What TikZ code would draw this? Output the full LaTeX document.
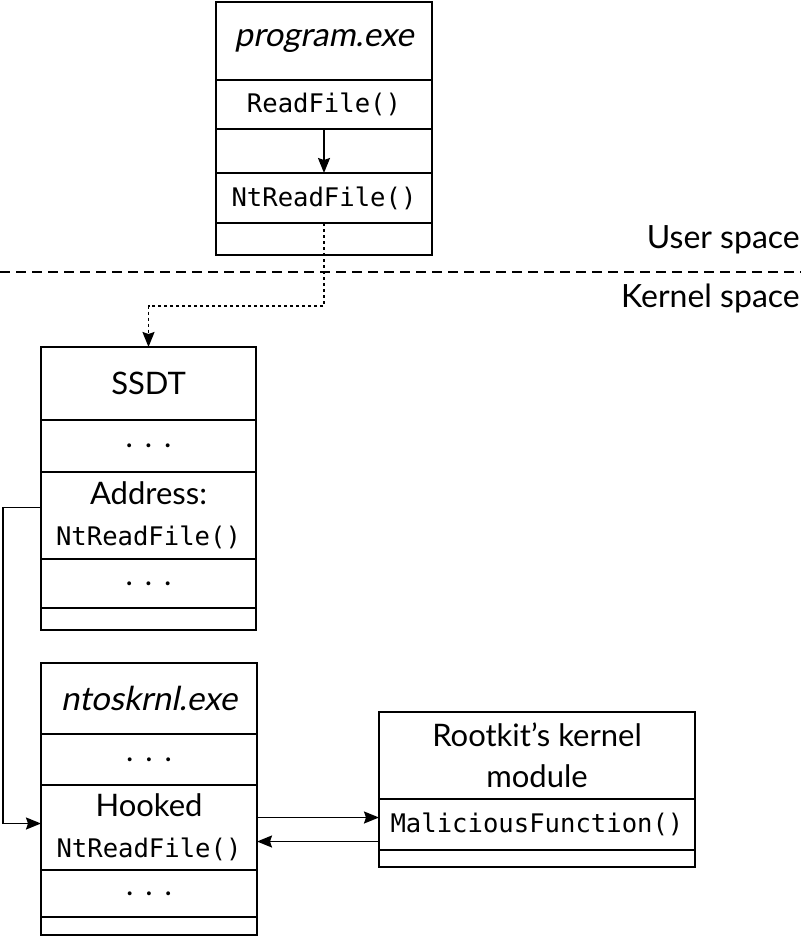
\documentclass[tikz,border=0pt]{standalone}
\usepackage{fontspec}
\setmainfont{Lato}
\setmonofont{DejaVu Sans Mono}
\newfontface\oblique{Lato}[FakeSlant=0.2]
\usetikzlibrary{positioning,arrows.meta}

\tikzset{
  cell/.style={draw, line width=1.8pt, inner sep=0pt, outer sep=0pt, align=center,
    font=\fontsize{31}{41}\selectfont},
  link/.style={line width=1.7pt},
  callarrow/.style={-{Stealth[length=15pt,width=12pt,inset=2pt]}},
}
\newcommand{\fn}[1]{{\ttfamily\fontsize{25.6}{30}\selectfont #1}}
\newcommand{\exe}[1]{{\oblique\fontsize{33}{41}\selectfont #1}}
\newcommand{\rowdots}{.\hspace{12pt}.\hspace{12pt}.}

\begin{document}
\begin{tikzpicture}[x=1pt,y=-1pt]
  \useasboundingbox (0,0) rectangle (801,937);

  % Define the widths of the tables
  \pgfmathsetmacro{\wa}{216}
  \pgfmathsetmacro{\wb}{215}
  \pgfmathsetmacro{\wc}{316}

  % Draw the user-mode program
  \node[cell, minimum width=\wa pt, minimum height=78pt] (prog) at (324,41) {\exe{program.exe}};
  \node[cell, minimum width=\wa pt, minimum height=49pt, below=0pt of prog] (readf) {\fn{ReadFile()}};
  \node[cell, minimum width=\wa pt, minimum height=44pt, below=0pt of readf] (pgap) {};
  \node[cell, minimum width=\wa pt, minimum height=50pt, below=0pt of pgap] (ntread) {\fn{NtReadFile()}};
  \node[cell, minimum width=\wa pt, minimum height=32pt, below=0pt of ntread] (pend) {};

  % Draw the boundary between user and kernel space
  \coordinate (sepL) at (0,272);
  \coordinate (sepR) at (801,272);
  \draw[link, dash pattern=on 10pt off 6pt] (sepL) -- (sepR);
  \node[anchor=east, inner sep=0pt, font=\fontsize{32}{36}\selectfont] (user) at (800,240) {User space};
  \node[anchor=east, inner sep=0pt, font=\fontsize{32}{36}\selectfont] (kernel) at (800,298) {Kernel space};

  % Draw the SSDT
  \node[cell, minimum width=\wb pt, minimum height=73pt] (ssdt) at (148.5,383.5) {SSDT};
  \node[cell, minimum width=\wb pt, minimum height=52pt, below=0pt of ssdt] (sdotsA) {\rowdots};
  \node[cell, minimum width=\wb pt, minimum height=87pt, below=0pt of sdotsA] (saddr) {Address:\\\fn{NtReadFile()}};
  \node[cell, minimum width=\wb pt, minimum height=49pt, below=0pt of saddr] (sdotsB) {\rowdots};
  \node[cell, minimum width=\wb pt, minimum height=22pt, below=0pt of sdotsB] (send) {};

  % Draw the kernel image
  \node[cell, minimum width=\wa pt, minimum height=71pt] (ntos) at (149,698.5) {\exe{ntoskrnl.exe}};
  \node[cell, minimum width=\wa pt, minimum height=51pt, below=0pt of ntos] (ndotsA) {\rowdots};
  \node[cell, minimum width=\wa pt, minimum height=85pt, below=0pt of ndotsA] (hooked) {Hooked\\\fn{NtReadFile()}};
  \node[cell, minimum width=\wa pt, minimum height=47pt, below=0pt of hooked] (ndotsB) {\rowdots};
  \node[cell, minimum width=\wa pt, minimum height=18pt, below=0pt of ndotsB] (nend) {};

  % Draw the rootkit module
  \node[cell, minimum width=\wc pt, minimum height=87pt] (rootkit) at (537,755.5) {Rootkit’s kernel\\module};
  \node[cell, minimum width=\wc pt, minimum height=51pt, below=0pt of rootkit] (malfn) {\fn{MaliciousFunction()}};
  \node[cell, minimum width=\wc pt, minimum height=17pt, below=0pt of malfn] (rend) {};

  % Draw the calls
  \draw[link, callarrow] (readf.south) -- (ntread.north);
  \draw[link, callarrow, dash pattern=on 3pt off 3pt] (ntread.south) -- ++(0,83) -| (ssdt.north);
  \coordinate (hookout) at ([yshift=8pt]saddr.west);
  \coordinate (hookin) at ([yshift=4pt]hooked.west);
  \draw[link, callarrow] (hookout) -- ++(-38,0) |- (hookin);
  \coordinate (callout) at ([yshift=10pt]hooked.east);
  \coordinate (callback) at ([yshift=-14pt]hooked.east);
  \draw[link, callarrow] (callout) -- (callout -| malfn.west);
  \draw[link, callarrow] (callback -| malfn.west) -- (callback);
\end{tikzpicture}
\end{document}
